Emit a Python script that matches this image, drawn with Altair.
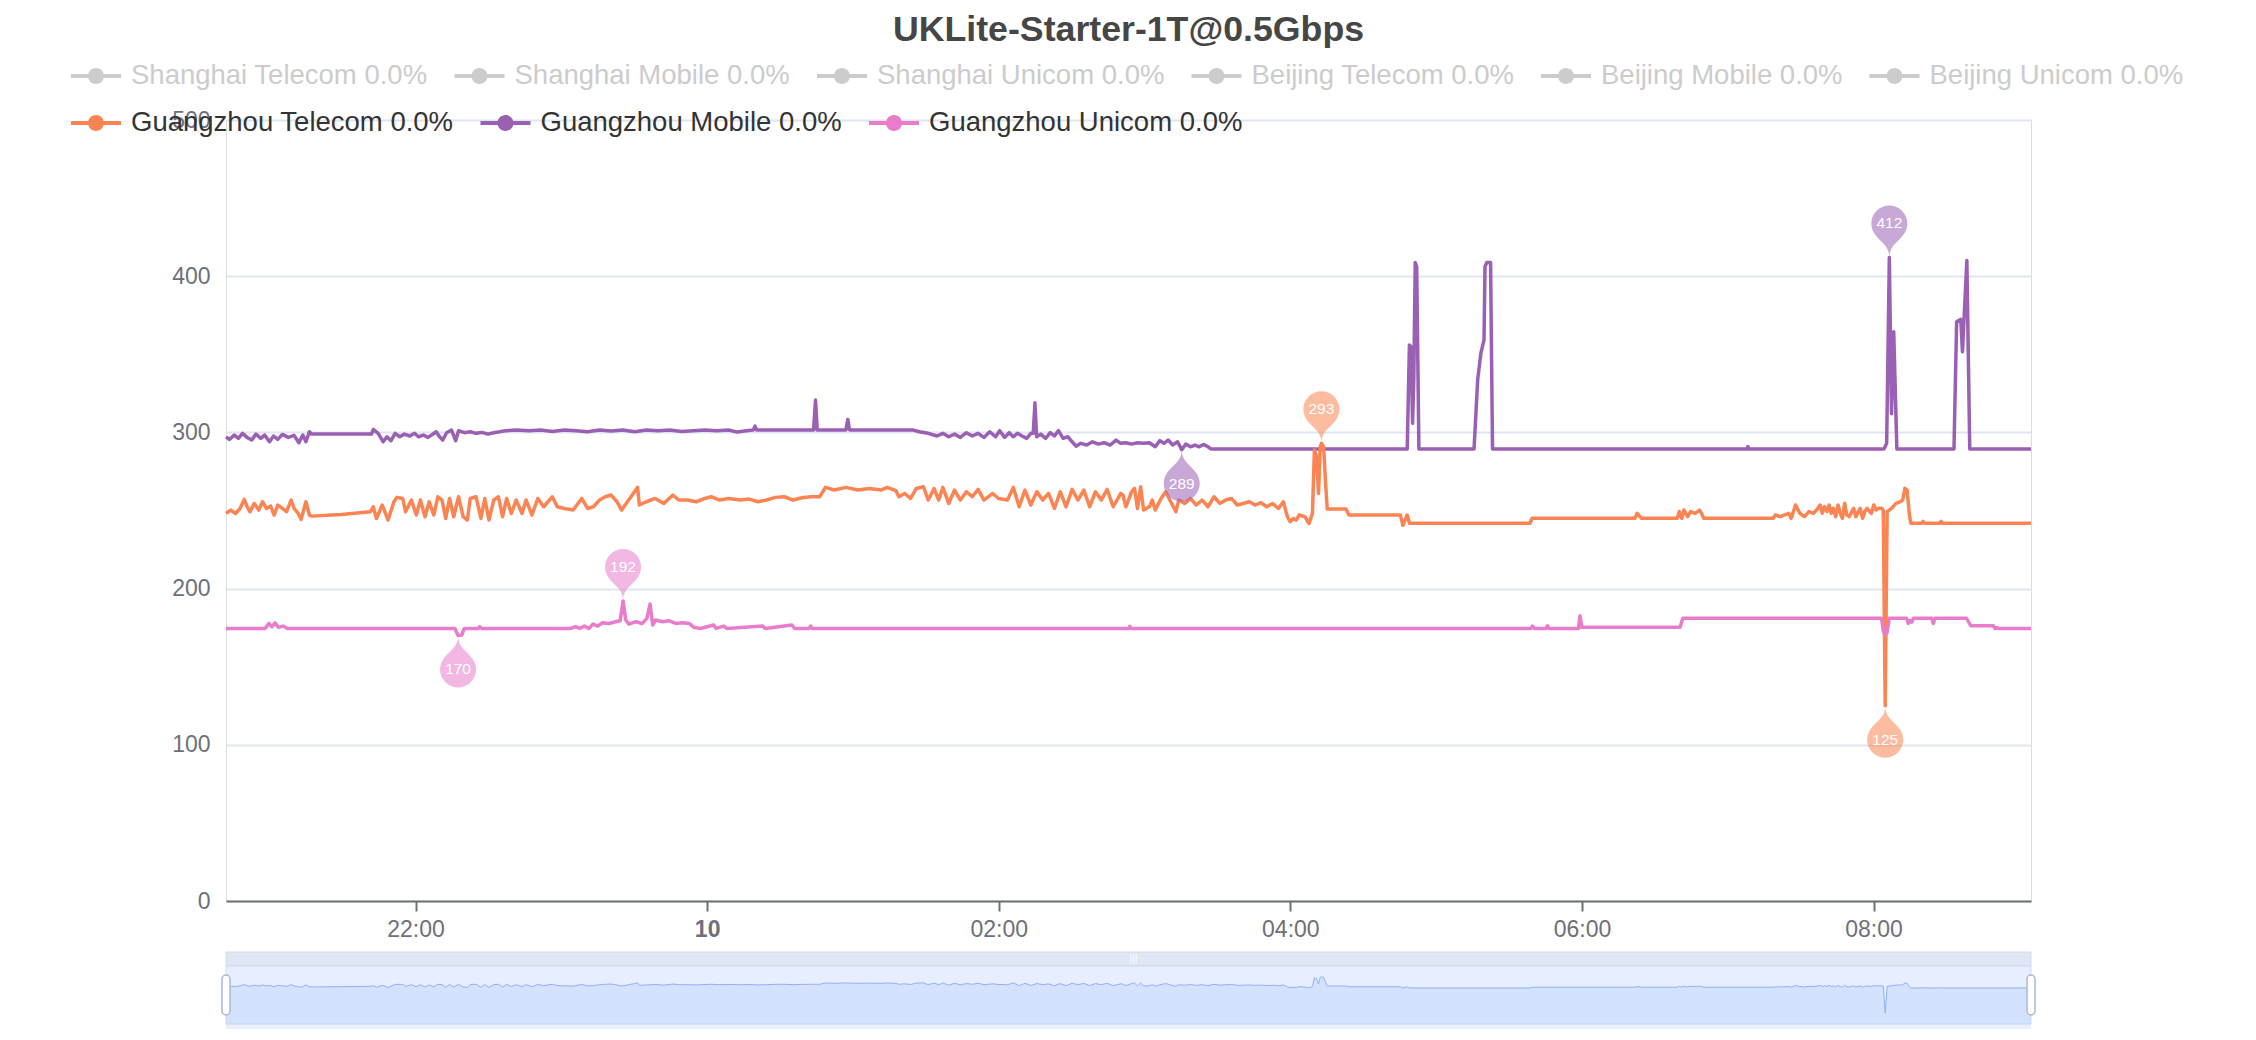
import altair as alt
import numpy as np
import pandas as pd

FONT = "Liberation Sans"
TITLE = "UKLite-Starter-1T@0.5Gbps"
START = "2024-06-09 20:42:00"

HIDDEN = ["Shanghai Telecom 0.0%", "Shanghai Mobile 0.0%", "Shanghai Unicom 0.0%",
          "Beijing Telecom 0.0%", "Beijing Mobile 0.0%", "Beijing Unicom 0.0%"]
VISIBLE = ["Guangzhou Telecom 0.0%", "Guangzhou Mobile 0.0%", "Guangzhou Unicom 0.0%"]
HIDDEN_COLORS = ["#cccccc"] * 6
VIS_COLORS = ["#fc8452", "#9a60b4", "#ea7ccc"]

Y_TICKS = [0, 100, 200, 300, 400, 500]
X_TICK_HOURS = [(9, 22), (10, 0), (10, 2), (10, 4), (10, 6), (10, 8)]

# minutes after 20:42 and latency values (ms)
gz_tel_min = [0, 1.9, 3.9, 5.8, 7.5, 8.7, 9.9, 11.6, 13.5, 15.0, 16.7, 18.4, 19.8, 21.3, 23.2, 24.9, 26.8, 28.0, 29.7, 30.9, 32.9, 34.3, 35.3, 47.4, 59.4,
              60.6, 61.9, 64.3, 66.7, 69.1, 70.3, 72.7, 73.9, 76.3, 78.3, 80.0, 81.9, 83.6, 85.5, 87.2, 88.9, 90.4, 92.0, 93.7, 95.7, 97.6, 99.3, 100.5, 102.9, 104.9, 106.5, 108.2, 110.2, 112.1, 113.8, 115.5, 117.4, 119.4, 121.8, 123.5, 125.9, 128.3, 130.7, 134.3, 136.3, 139.2, 142.8, 146.4, 148.8, 151.2, 153.7, 156.1, 158.5, 160.9, 162.8, 165.7, 169.4, 170.1, 173.0, 176.6, 180.2, 183.9, 186.3, 189.9, 193.5, 197.1, 199.6, 203.2, 206.8, 211.6, 215.3, 218.9, 222.5, 226.1, 229.8, 233.4, 237.0, 240.6, 244.3, 246.7, 250.3, 255.1, 260.0, 264.8, 269.6, 272.0, 275.7, 276.9, 279.3, 281.7, 284.1, 287.0, 289.0, 291.4, 293.3, 295.0, 297.4, 299.8, 302.2, 304.7, 307.1, 309.5, 311.9, 315.5, 317.9, 321.6, 324.0, 326.4, 328.8, 331.2, 333.7, 336.1, 338.5, 340.9, 343.3, 345.7, 348.2, 350.6, 353.0, 355.4, 357.8, 360.2, 362.6, 365.1, 368.2,
              369.1, 370.3, 372.7, 373.9, 375.1, 376.4, 377.6, 380.0, 381.2, 382.4, 384.8, 386.7, 388.4, 390.9, 392.1, 394.5, 396.9, 399.3, 401.7, 404.1, 406.6, 409.0, 411.4, 413.8, 416.2, 418.6, 421.1, 423.5, 425.9, 428.3, 430.7, 433.1, 435.1, 436.8, 437.9, 439.2, 440.4, 441.6, 444.0, 445.7, 447.1, 447.9, 448.8, 449.6, 450.3, 450.8, 451.7, 452.5, 453.2, 460.9, 462.1, 483.3, 484.3, 486.1, 487.0,
              536.6, 537.5, 579.8, 580.7, 582.5, 597.2, 598.1, 599.1, 600.0, 601.5, 602.7, 604.6, 606.4, 608.2, 636.7, 637.6, 639.5, 643.1, 644.1, 645.9, 647.7, 649.6, 651.4, 653.3, 655.1, 656.0, 656.9, 657.8, 658.8, 659.7, 660.6, 661.5, 662.4, 663.4, 664.3, 665.2, 666.1, 667.0, 668.0, 669.8, 670.7, 672.5, 673.5, 674.4, 675.3, 677.1, 678.1, 679.0, 679.9, 681.4, 682.0, 682.8, 683.6, 685.4, 687.2, 689.1, 690.0, 690.9, 691.8, 692.7, 693.3, 697.9, 698.4, 699.2, 705.2, 705.8, 706.5, 742.8]
gz_tel_val = [248.1, 250.3, 248.1, 251.3, 257.1, 252.4, 249.2, 254.5, 250.3, 255.6, 251.3, 252.8, 247.1, 253.5, 251.3, 249.2, 256.7, 251.3, 248.1, 244.3, 255.6, 247.1, 246.4, 247.5, 249.2,
              252.4, 244.9, 253.5, 243.9, 255.6, 258.4, 257.7, 249.2, 256.7, 247.1, 256.7, 246.0, 255.6, 247.1, 258.8, 256.7, 244.9, 257.7, 246.0, 258.8, 246.0, 243.9, 257.7, 258.8, 244.9, 257.7, 243.9, 256.7, 258.8, 246.0, 257.7, 248.1, 256.7, 248.1, 256.7, 247.1, 257.7, 252.4, 258.8, 252.4, 251.3, 250.3, 257.7, 251.3, 252.4, 256.7, 258.8, 259.9, 255.6, 250.3, 256.7, 264.8, 253.5, 255.6, 257.7, 254.5, 259.9, 256.7, 256.7, 255.6, 257.7, 258.8, 256.7, 257.7, 256.7, 257.3, 255.6, 256.7, 258.4, 258.8, 256.7, 258.2, 258.8, 258.8, 264.8, 263.1, 264.8, 263.1, 264.1, 263.1, 264.8, 262.7, 258.8, 260.9, 257.7, 264.1, 265.2, 256.7, 264.1, 256.7, 264.8, 254.5, 263.1, 256.7, 262.0, 258.8, 263.5, 256.7, 260.9, 257.7, 256.7, 264.8, 252.4, 263.1, 253.5, 262.0, 256.7, 260.9, 251.3, 262.0, 252.4, 263.5, 256.7, 263.1, 252.4, 262.0, 256.7, 263.5, 252.4, 260.9,
              259.9, 252.4, 262.0, 264.1, 251.3, 265.2, 250.3, 252.4, 256.7, 250.3, 257.7, 262.0, 256.7, 249.2, 256.7, 254.5, 257.7, 253.5, 256.7, 252.4, 258.8, 254.5, 256.7, 257.7, 253.5, 254.5, 255.6, 253.5, 255.0, 252.4, 254.5, 251.3, 255.6, 246.0, 242.8, 244.9, 243.9, 247.1, 246.0, 241.7, 248.1, 288.7, 284.4, 260.9, 290.8, 293.0, 290.8, 267.3, 250.9, 250.9, 247.1, 247.1, 240.5, 247.1, 241.8,
              241.8, 245.0, 245.0, 248.2, 245.0, 245.0, 249.3, 245.0, 250.3, 246.1, 249.3, 248.2, 250.3, 245.0, 245.0, 247.1, 246.1, 248.2, 245.0, 253.5, 248.2, 246.1, 249.3, 248.2, 251.4, 253.5, 248.2, 252.5, 249.3, 253.5, 248.2, 251.4, 246.1, 253.5, 248.2, 245.0, 254.6, 247.1, 246.1, 251.4, 246.1, 251.4, 245.0, 249.3, 251.4, 248.2, 253.5, 250.3, 251.4, 251.4, 250.0, 125.0, 249.3, 251.4, 254.6, 255.7, 256.7, 264.2, 263.1, 248.2, 241.8, 241.8, 243.0, 241.8, 241.8, 243.0, 241.8, 241.8]

gz_mob_min = [0, 1.4, 3.4, 5.1, 6.8, 8.7, 10.6, 12.3, 14.3, 15.9, 17.9, 19.6, 21.3, 23.2, 25.6, 28.0, 30.0, 31.6, 32.9, 34.3, 35.3, 59.9, 60.6, 62.6, 64.7, 66.2, 67.9, 69.6, 71.5, 73.4, 75.6, 77.6, 79.2, 81.2, 83.1, 84.8, 86.5, 87.9, 89.2, 90.8, 92.8, 94.5, 95.7, 98.1, 100.5, 102.9, 105.3, 107.8, 110.2, 112.6, 115.0, 119.8, 124.7, 129.5, 134.3, 139.2, 144.0, 148.8, 153.7, 158.5, 163.3, 168.2, 173.0, 177.8, 182.6, 187.5, 192.3, 197.1, 202.0, 206.8, 210.4, 214.1, 217.0, 217.7, 218.4, 241.8, 242.6, 243.3, 255.1, 255.9, 256.6, 282.9, 285.3, 289.0, 292.6, 295.0, 297.4, 299.8, 302.2, 304.7, 307.1, 309.5, 311.9, 314.3, 316.7, 318.4, 320.4, 322.3, 324.0, 325.7, 327.6, 329.5, 331.2, 332.2, 332.9, 333.6, 335.3, 337.3, 339.2, 340.9, 342.6, 344.5, 346.5, 348.2, 349.8, 351.8, 354.2, 356.6, 359.0, 361.4, 363.8, 366.3, 368.2, 370.3, 372.7, 375.1, 377.6, 380.0, 382.4, 384.3, 386.0, 387.7, 389.6, 391.6, 393.3, 395.0, 396.9, 398.8, 400.5, 402.2, 404.1, 405.3,
              486.1, 487.0, 487.7, 488.3, 488.8, 489.4, 490.0, 490.9, 513.6, 515.1, 516.4, 517.7, 518.1, 518.8, 520.4, 521.2, 626.0, 626.3, 626.8, 682.3, 683.4, 684.5, 685.4, 686.3, 687.6, 711.1, 712.2, 713.9, 714.6, 716.4, 717.6, 742.8]
gz_mob_val = [297.2, 295.5, 298.3, 296.2, 299.4, 296.8, 295.1, 298.9, 296.2, 298.3, 294.0, 297.7, 295.5, 298.7, 296.8, 298.1, 293.4, 298.3, 294.0, 300.4, 298.9, 298.9, 301.9, 299.4, 294.0, 297.2, 294.7, 299.4, 297.2, 298.9, 297.7, 299.4, 297.2, 298.3, 296.8, 298.5, 300.4, 297.2, 295.1, 299.8, 301.5, 294.7, 301.1, 299.8, 300.4, 299.4, 300.0, 298.9, 299.8, 300.4, 301.1, 301.5, 301.1, 301.5, 300.6, 301.5, 301.1, 300.4, 301.5, 300.9, 301.5, 300.4, 301.5, 301.1, 301.5, 300.6, 301.1, 301.5, 301.1, 301.5, 300.2, 301.1, 301.5, 304.0, 301.5, 301.5, 320.7, 301.5, 301.5, 308.3, 301.5, 301.5, 300.4, 299.4, 297.7, 299.4, 297.2, 298.9, 296.8, 299.8, 297.7, 299.4, 296.8, 300.4, 297.2, 301.1, 296.8, 299.8, 297.2, 299.4, 297.7, 296.2, 299.4, 299.4, 319.0, 297.2, 298.9, 296.2, 299.8, 297.7, 301.1, 296.2, 297.2, 294.0, 291.2, 293.0, 291.9, 294.0, 292.5, 293.4, 291.9, 295.1, 293.0, 293.4, 292.5, 293.4, 293.0, 293.4, 290.8, 294.7, 293.0, 295.1, 291.9, 294.0, 289.0, 292.5, 290.8, 291.9, 290.8, 292.3, 290.8, 289.4,
              289.4, 356.0, 354.9, 305.8, 333.6, 408.7, 406.1, 289.4, 289.4, 333.6, 350.6, 359.2, 406.1, 408.7, 408.7, 289.4, 289.4, 290.9, 289.4, 289.4, 293.0, 412.0, 312.0, 364.5, 289.4, 289.4, 370.9, 372.4, 351.7, 410.0, 289.4, 289.4]

gz_uni_min = [0, 16.1, 17.6, 18.9, 20.2, 21.6, 23.5, 25.3, 94.2, 95.5, 97.0, 98.1, 103.9, 104.3, 105.2, 141.9, 143.8, 145.6, 147.5, 149.3, 151.1, 153.0, 154.8, 157.6, 160.3, 162.2, 163.4, 164.5, 165.8, 168.6, 171.3, 173.2, 174.5, 175.6, 176.8, 179.6, 182.4, 185.1, 187.9, 190.6, 192.5, 195.2, 200.7, 201.6, 204.9, 206.1, 220.9, 221.9, 232.9, 234.0, 240.0, 240.6, 241.2, 371.4, 371.9, 372.4, 537.0, 537.6, 538.4, 543.2, 543.8, 544.5, 556.6, 557.2, 558.0, 598.4, 599.5, 681.3, 682.0, 682.7, 683.5, 684.5, 691.6, 692.3, 693.0, 693.7, 694.4, 701.9, 702.6, 703.3, 716.3, 718.0, 727.3, 728.0, 728.7, 729.4, 742.8]
gz_uni_val = [174.5, 174.5, 177.7, 175.6, 178.1, 175.2, 176.0, 174.5, 174.5, 170.0, 170.3, 174.5, 174.5, 175.6, 174.5, 174.5, 175.6, 174.5, 176.0, 174.5, 177.3, 176.0, 178.1, 177.7, 178.8, 179.4, 192.0, 179.9, 177.3, 178.8, 177.7, 180.9, 190.1, 176.7, 179.9, 178.8, 179.4, 177.7, 178.1, 177.7, 175.2, 174.5, 176.7, 174.5, 176.0, 174.5, 176.0, 174.5, 176.7, 174.5, 174.5, 176.0, 174.5, 174.5, 175.8, 174.5, 174.5, 176.0, 174.5, 174.5, 176.2, 174.5, 174.5, 182.6, 175.2, 175.2, 181.0, 181.0, 173.0, 170.5, 171.5, 181.0, 181.0, 177.7, 179.5, 178.5, 181.0, 181.0, 177.7, 181.0, 181.0, 176.2, 176.2, 174.5, 175.0, 174.5, 174.5]

# ---------------------------------------------------------------- frames
base = pd.Timestamp(START)


def frame(name, mins, vals):
    t = (base + pd.to_timedelta(mins, unit="min")).round("s")
    return pd.DataFrame({"series": name, "time": t, "value": vals})


tel = frame(VISIBLE[0], gz_tel_min, gz_tel_val)
mob = frame(VISIBLE[1], gz_mob_min, gz_mob_val)
uni = frame(VISIBLE[2], gz_uni_min, gz_uni_val)

pin_rows = []
for df in (tel, mob, uni):
    i = int(np.argmax(df["value"].values))
    j = int(np.argmin(df["value"].values))
    for k, kind in ((i, "max"), (j, "min")):
        pin_rows.append({"series": df["series"].iloc[k], "time": df["time"].iloc[k],
                         "value": float(df["value"].iloc[k]), "kind": kind,
                         "label": f"{df['value'].iloc[k]:.0f}"})
pins = pd.DataFrame(pin_rows)
pins_max = pins[pins.kind == "max"].reset_index(drop=True)
pins_min = pins[pins.kind == "min"].reset_index(drop=True)
hidden_df = pd.DataFrame({"series": HIDDEN})
title_df = pd.DataFrame({"title": [TITLE]})

# ---------------------------------------------------------------- styling
W, H = 1805, 781
AXIS_GREY = "#6E7079"

# symbol paths (no Z / no arcs)
LEG_SYM = ("M-1,-0.08L1,-0.08L1,0.08L-1,0.08L-1,-0.08"
           "M0.32,0C0.32,0.177 0.177,0.32 0,0.32C-0.177,0.32 -0.32,0.177 -0.32,0"
           "C-0.32,-0.177 -0.177,-0.32 0,-0.32C0.177,-0.32 0.32,-0.177 0.32,0")
PIN_UP = ("M-0.848,-1.361C-0.947,-1.52 -1,-1.703 -1,-1.89"
          "C-1,-2.442 -0.552,-2.89 0,-2.89C0.552,-2.89 1,-2.442 1,-1.89"
          "C1,-1.703 0.947,-1.52 0.848,-1.361C0.531,-0.852 0,-0.7 0,0"
          "C0,-0.7 -0.531,-0.852 -0.848,-1.361")
PIN_DOWN = ("M-0.848,1.361C-0.947,1.52 -1,1.703 -1,1.89"
            "C-1,2.442 -0.552,2.89 0,2.89C0.552,2.89 1,2.442 1,1.89"
            "C1,1.703 0.947,1.52 0.848,1.361C0.531,0.852 0,0.7 0,0"
            "C0,0.7 -0.531,0.852 -0.848,1.361")
HANDLE = ("M-0.2,-0.8C-0.2,-0.91 -0.11,-1 0,-1C0.11,-1 0.2,-0.91 0.2,-0.8L0.2,0.8"
          "C0.2,0.91 0.11,1 0,1C-0.11,1 -0.2,0.91 -0.2,0.8L-0.2,-0.8")


def legend(y, ncol, label_color):
    return alt.Legend(
        title=None, orient="none", legendX=-155, legendY=y,
        direction="horizontal", columns=ncol, gridAlign="none",
        symbolType=LEG_SYM, symbolSize=2500, symbolStrokeWidth=0, symbolOpacity=1,
        labelFont=FONT, labelFontSize=27.5, labelOffset=10, labelLimit=2000,
        labelColor=label_color, columnPadding=26.5, padding=0,
    )


LEG_HIDDEN = legend(-69, 6, "#cccccc")
LEG_VIS = legend(-22, 3, "#333333")

x_ticks = [alt.DateTime(year=2024, month=6, date=d, hours=h) for d, h in X_TICK_HOURS]

x_enc = alt.X(
    "time:T", title=None,
    axis=alt.Axis(
        values=x_ticks,
        labelExpr="hours(datum.value) == 0 ? timeFormat(datum.value, '%d') : timeFormat(datum.value, '%H:%M')",
        labelFontWeight={"condition": {"test": "hours(datum.value) == 0", "value": "bold"}, "value": "normal"},
        domainColor=AXIS_GREY, domainWidth=2, tickColor=AXIS_GREY, tickWidth=2, tickSize=10,
        labelColor=AXIS_GREY, labelFontSize=23, labelFont=FONT, labelPadding=7, grid=False,
        labelFlush=False,
    ),
)
y_enc = alt.Y(
    "value:Q", title=None,
    scale=alt.Scale(domain=[0, 500], nice=False),
    axis=alt.Axis(values=Y_TICKS, grid=True, gridColor="#E0E6F1", gridWidth=2, domain=False,
                  ticks=False, labelFontSize=23, labelColor=AXIS_GREY, labelFont=FONT,
                  labelPadding=16),
)
vis_scale = alt.Scale(domain=VISIBLE, range=VIS_COLORS)
stroke_enc = alt.Stroke("series:N", scale=vis_scale, legend=LEG_VIS)
pin_color = alt.Color("series:N", scale=vis_scale, legend=LEG_VIS)
hid_fill = alt.Fill("series:N", scale=alt.Scale(domain=HIDDEN, range=HIDDEN_COLORS), legend=LEG_HIDDEN)


def line_layer(df):
    return alt.Chart(df).mark_line(strokeWidth=3.5, strokeJoin="round").encode(
        x=x_enc, y=y_enc, stroke=stroke_enc)


pin_max_layer = alt.Chart(pins_max).mark_point(
    shape=PIN_UP, filled=True, size=1296, opacity=0.55, strokeWidth=0
).encode(x=x_enc, y=y_enc, color=pin_color)
pin_min_layer = alt.Chart(pins_min).mark_point(
    shape=PIN_DOWN, filled=True, size=1296, opacity=0.55, strokeWidth=0
).encode(x=x_enc, y=y_enc, color=pin_color)
txt_max = alt.Chart(pins_max).mark_text(dy=-34, color="#ffffff", fontSize=15.5, font=FONT).encode(
    x=x_enc, y=y_enc, text="label:N")
txt_min = alt.Chart(pins_min).mark_text(dy=34, color="#ffffff", fontSize=15.5, font=FONT).encode(
    x=x_enc, y=y_enc, text="label:N")
hidden_layer = alt.Chart(hidden_df).mark_point(filled=True, size=0, opacity=0).encode(fill=hid_fill)

# chart title, centred over the plot
title_layer = alt.Chart(title_df).mark_text(
    fontSize=35.7, fontWeight="bold", color="#464646", font=FONT, align="center", baseline="alphabetic"
).encode(text="title:N", x=alt.value(W / 2), y=alt.value(-79.5))

main = alt.layer(line_layer(mob), line_layer(tel), line_layer(uni),
                 pin_max_layer, pin_min_layer, txt_max, txt_min, hidden_layer, title_layer)

# ---------------------------------------------------------------- data-zoom slider
SL_BAR, SL_TOP, SL_BOT = H + 51, H + 65, H + 123
vmin, vmax = min(gz_tel_val), max(gz_tel_val)
pad = 0.3 * (vmax - vmin)
ys = alt.Y("value:Q", title=None, axis=None,
           scale=alt.Scale(domain=[vmin - pad, vmax + pad], range=[SL_BOT, SL_TOP], nice=False, zero=False))
one = pd.DataFrame({"k": [0]})
handles = pd.DataFrame({"time": [tel["time"].min(), tel["time"].max()]})

bar = alt.Chart(one).mark_rect(fill="#e0e6f3", stroke="#d2dbee", strokeWidth=1).encode(
    x=alt.value(0), x2=alt.value(W), y=alt.value(SL_BAR), y2=alt.value(SL_TOP))
win = alt.Chart(one).mark_rect(fill="#e7efff", stroke="#d2dbee", strokeWidth=1).encode(
    x=alt.value(0), x2=alt.value(W), y=alt.value(SL_TOP), y2=alt.value(SL_BOT))
sl_area = alt.Chart(tel).mark_area(color="#8fb0f7", fillOpacity=0.2).encode(
    x=x_enc, y=ys, y2=alt.value(SL_BOT))
sl_line = alt.Chart(tel).mark_line(color="#8fb0f7", strokeWidth=1).encode(x=x_enc, y=ys)
sl_handles = alt.Chart(handles).mark_point(
    shape=HANDLE, filled=True, fill="#ffffff", stroke="#acb8d1", strokeWidth=1.5, size=1600, opacity=1
).encode(x=x_enc, y=alt.value((SL_TOP + SL_BOT) / 2))
sl_icon = alt.Chart(one).mark_text(text="|||", color="#ffffff", fontSize=10, font=FONT).encode(
    x=alt.value(W / 2 + 5), y=alt.value((SL_BAR + SL_TOP) / 2))

slider = alt.layer(bar, win, sl_area, sl_line, sl_handles, sl_icon)

chart = alt.layer(main, slider).resolve_scale(y="independent").properties(
    width=W, height=H,
    padding={"left": 218, "top": 112, "right": 217, "bottom": 128},
    autosize=alt.AutoSizeParams(type="none"),
).configure_view(strokeWidth=0).configure(background="#ffffff")

chart.save("out.html", embed_options={"renderer": "svg", "actions": False})
